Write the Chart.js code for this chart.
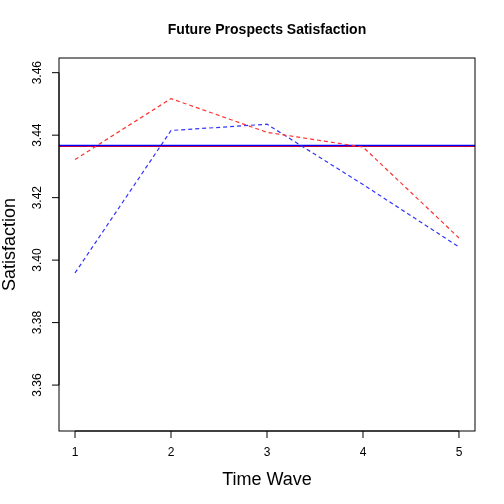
<!DOCTYPE html>
<html><head><meta charset="utf-8">
<script src="https://cdn.jsdelivr.net/npm/chart.js@4"></script>
<style>html,body{margin:0;background:#fff}#wrap{width:504px;height:504px}</style>
</head><body><div id="wrap"><canvas id="c"></canvas></div>
<script>
const waves = [1, 2, 3, 4, 5];
const redSeries = [3.4322, 3.4517, 3.4409, 3.4362, 3.4071];
const blueSeries = [3.3959, 3.4415, 3.4435, 3.4242, 3.4042];
const blueMean = 3.4367;
const redMean = 3.4365;
const yTicks = [3.36, 3.38, 3.40, 3.42, 3.44, 3.46];
const X_MIN = 0.833, X_MAX = 5.167;

const pts = arr => arr.map((v, i) => ({ x: waves[i], y: v }));
const hline = v => [{ x: X_MIN, y: v }, { x: X_MAX, y: v }];

// R-style axes, box and labels
const rAxes = {
  id: 'rAxes',
  afterDraw(chart) {
    const { ctx, chartArea: a, scales: { x, y } } = chart;
    ctx.save();
    ctx.strokeStyle = '#000'; ctx.fillStyle = '#000'; ctx.lineWidth = 1;
    ctx.strokeRect(a.left, a.top, a.right - a.left, a.bottom - a.top);
    ctx.font = '12px "Liberation Sans", Arial, sans-serif';
    ctx.textAlign = 'center'; ctx.textBaseline = 'top';
    ctx.beginPath();
    ctx.moveTo(x.getPixelForValue(1), a.bottom); ctx.lineTo(x.getPixelForValue(5), a.bottom);
    waves.forEach(w => {
      const px = x.getPixelForValue(w);
      ctx.moveTo(px, a.bottom); ctx.lineTo(px, a.bottom + 7);
      ctx.fillText(String(w), px, a.bottom + 16);
    });
    const y0 = y.getPixelForValue(yTicks[0]), y1 = y.getPixelForValue(yTicks[yTicks.length - 1]);
    ctx.moveTo(a.left, y0); ctx.lineTo(a.left, y1);
    yTicks.forEach(t => { const py = y.getPixelForValue(t); ctx.moveTo(a.left, py); ctx.lineTo(a.left - 7, py); });
    ctx.stroke();
    ctx.textBaseline = 'bottom';
    yTicks.forEach(t => {
      const py = y.getPixelForValue(t);
      ctx.save(); ctx.translate(a.left - 15, py); ctx.rotate(-Math.PI / 2);
      ctx.fillText(t.toFixed(2), 0, 0); ctx.restore();
    });
    ctx.font = 'bold 14px "Liberation Sans", Arial, sans-serif';
    ctx.textBaseline = 'middle';
    ctx.fillText('Future Prospects Satisfaction', (a.left + a.right) / 2, 30);
    ctx.font = '18px "Liberation Sans", Arial, sans-serif';
    ctx.fillText('Time Wave', (a.left + a.right) / 2, 480);
    ctx.save(); ctx.translate(10, (a.top + a.bottom) / 2); ctx.rotate(-Math.PI / 2);
    ctx.fillText('Satisfaction', 0, 0); ctx.restore();
    ctx.restore();
  }
};

new Chart(document.getElementById('c'), {
  type: 'line',
  data: { datasets: [
    { data: pts(redSeries), borderColor: '#ff3333', borderDash: [4, 3], borderWidth: 1.2, pointRadius: 0, tension: 0 },
    { data: pts(blueSeries), borderColor: '#3333ff', borderDash: [4, 3], borderWidth: 1.2, pointRadius: 0, tension: 0 },
    { data: hline(blueMean), borderColor: '#0000ff', borderWidth: 1.5, pointRadius: 0 },
    { data: hline(redMean), borderColor: '#ff0000', borderWidth: 1.8, pointRadius: 0 },
  ]},
  options: {
    responsive: true, maintainAspectRatio: false, animation: false,
    layout: { padding: { top: 58, right: 29, left: 0, bottom: 0 } },
    plugins: { legend: { display: false }, tooltip: { enabled: false } },
    scales: {
      x: { type: 'linear', min: X_MIN, max: X_MAX, grid: { display: false }, border: { display: false },
           ticks: { display: false }, afterFit: s => { s.height = 73; } },
      y: { min: 3.3453, max: 3.4647, grid: { display: false }, border: { display: false },
           ticks: { display: false }, afterFit: s => { s.width = 59; } }
    }
  },
  plugins: [rAxes]
});
</script></body></html>
